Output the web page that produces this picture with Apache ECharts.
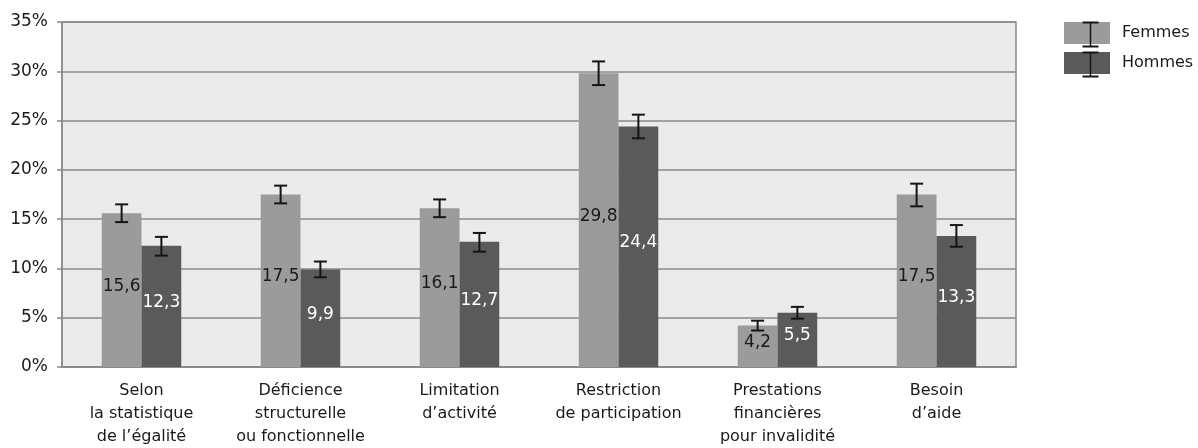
<!DOCTYPE html>
<html>
<head>
<meta charset="utf-8">
<script src="https://cdn.jsdelivr.net/npm/echarts@6/dist/echarts.min.js"></script>
<style>
html,body{margin:0;padding:0;background:#fff;}
#chart{width:1198px;height:448px;}
</style>
</head>
<body>
<div id="chart"></div>
<script>
var categories = [
  "Selon\nla statistique\nde l’égalité",
  "Déficience\nstructurelle\nou fonctionnelle",
  "Limitation\nd’activité",
  "Restriction\nde participation",
  "Prestations\nfinancières\npour invalidité",
  "Besoin\nd’aide"
];
var femmes = [15.6, 17.5, 16.1, 29.8, 4.2, 17.5];
var femmesLow = [14.7, 16.6, 15.2, 28.6, 3.7, 16.3];
var femmesHigh = [16.5, 18.4, 17.0, 31.0, 4.7, 18.6];
var hommes = [12.3, 9.9, 12.7, 24.4, 5.5, 13.3];
var hommesLow = [11.3, 9.1, 11.7, 23.2, 4.9, 12.2];
var hommesHigh = [13.2, 10.7, 13.6, 25.6, 6.1, 14.4];

var FONT = "DejaVu Sans";

function errRender(sign) {
  return function (params, api) {
    var idx = api.value(0);
    var lo = api.coord([idx, api.value(1)]);
    var hi = api.coord([idx, api.value(2)]);
    var bw = api.size([1, 0])[0];
    var x = lo[0] + sign * bw / 8;
    var cap = 6.5;
    var st = {stroke: '#151515', lineWidth: 2};
    return {
      type: 'group',
      children: [
        {type: 'line', shape: {x1: x, y1: hi[1], x2: x, y2: lo[1]}, style: st},
        {type: 'line', shape: {x1: x - cap, y1: hi[1], x2: x + cap, y2: hi[1]}, style: st},
        {type: 'line', shape: {x1: x - cap, y1: lo[1], x2: x + cap, y2: lo[1]}, style: st}
      ]
    };
  };
}

function fmt(p) { return String(p.value).replace('.', ','); }

function ibeam(top) {
  return {type: 'group', left: 1080, top: top, z: 100, silent: true, children: [
    {type: 'line', z: 100, shape: {x1: 8, y1: 0, x2: 8, y2: 24}, style: {stroke: '#151515', lineWidth: 1.5}},
    {type: 'line', z: 100, shape: {x1: 0, y1: 0, x2: 16, y2: 0}, style: {stroke: '#151515', lineWidth: 2}},
    {type: 'line', z: 100, shape: {x1: 0, y1: 24, x2: 16, y2: 24}, style: {stroke: '#151515', lineWidth: 2}}
  ]};
}

var chart = echarts.init(document.getElementById('chart'));
chart.setOption({
  animation: false,
  textStyle: {fontFamily: FONT},
  grid: {
    left: 62, right: 182, top: 22, bottom: 80,
    show: true, backgroundColor: '#ebebeb', borderColor: '#8a8a8a', borderWidth: 1.5
  },
  legend: {
    data: ['Femmes', 'Hommes'],
    orient: 'vertical',
    left: 1064, top: 22, padding: 0,
    itemWidth: 46, itemHeight: 22, itemGap: 8,
    icon: 'rect',
    textStyle: {fontFamily: FONT, fontSize: 16, color: '#1a1a1a', padding: [0, 0, 0, 7]}
  },
  xAxis: {
    type: 'category',
    data: categories,
    axisLine: {show: true, lineStyle: {color: '#8a8a8a', width: 2}},
    axisTick: {show: false},
    axisLabel: {fontFamily: FONT, fontSize: 16, color: '#1a1a1a', lineHeight: 23, margin: 12, interval: 0}
  },
  yAxis: {
    type: 'value',
    min: 0, max: 35, interval: 5,
    axisLine: {show: true, lineStyle: {color: '#8a8a8a', width: 1.5}},
    axisTick: {show: true, length: 5, lineStyle: {color: '#8a8a8a', width: 1.5}},
    splitLine: {show: true, lineStyle: {color: '#8a8a8a', width: 1.5}},
    axisLabel: {formatter: '{value}%', fontFamily: FONT, fontSize: 17, color: '#1a1a1a', margin: 14}
  },
  series: [
    {
      name: 'Femmes', type: 'bar', data: femmes,
      barGap: '0%', barCategoryGap: '50%',
      itemStyle: {color: '#9b9b9b'},
      label: {show: true, position: 'inside', offset: [0, -4], formatter: fmt,
        fontFamily: FONT, fontSize: 17, color: '#1a1a1a'}
    },
    {
      name: 'Hommes', type: 'bar', data: hommes,
      barGap: '0%', barCategoryGap: '50%',
      itemStyle: {color: '#5a5a5a'},
      label: {show: true, position: 'inside', offset: [0, -4], formatter: fmt,
        fontFamily: FONT, fontSize: 17, color: '#ffffff'}
    },
    {
      name: 'Femmes IC', type: 'custom', z: 10,
      renderItem: errRender(-1),
      encode: {x: 0, y: [1, 2]},
      data: femmesLow.map(function (l, i) { return [i, l, femmesHigh[i]]; })
    },
    {
      name: 'Hommes IC', type: 'custom', z: 10,
      renderItem: errRender(1),
      encode: {x: 0, y: [1, 2]},
      data: hommesLow.map(function (l, i) { return [i, l, hommesHigh[i]]; })
    }
  ],
  graphic: [ibeam(20), ibeam(50)]
});
</script>
</body>
</html>
